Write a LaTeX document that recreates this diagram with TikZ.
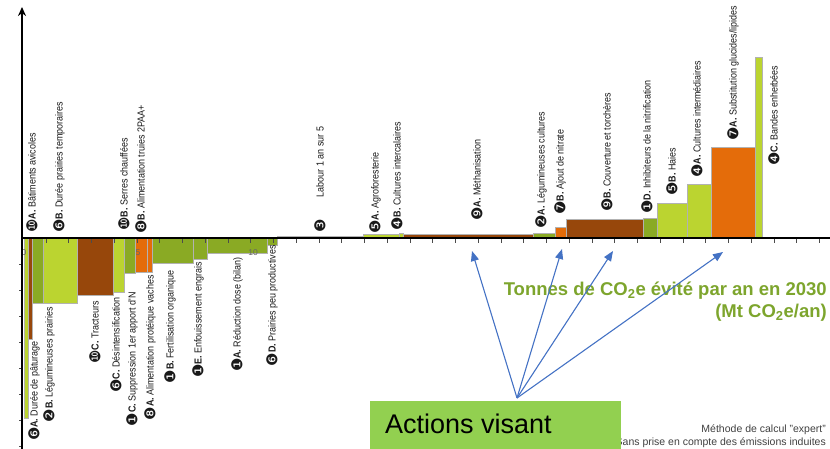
\documentclass[tikz,border=0pt]{standalone}
\usepackage{fontspec}
\setmainfont{Liberation Sans}
\newfontfamily\labfont[FakeStretch=0.88]{Liberation Sans}
\newfontfamily\pastfont{DejaVu Sans}
\usetikzlibrary{arrows.meta}

\definecolor{vclair}{RGB}{187,212,48}
\definecolor{volive}{RGB}{138,170,36}
\definecolor{brun}{RGB}{151,71,11}
\definecolor{orangeb}{RGB}{228,108,10}
\definecolor{vboite}{RGB}{146,208,80}
\definecolor{vtitre}{RGB}{125,165,45}
\definecolor{bleu}{RGB}{68,114,196}

\newcommand\pastille[1]{{\pastfont\fontsize{15}{15}\selectfont\raisebox{-1.8pt}{#1}}}

\begin{document}
\begin{tikzpicture}[x=1pt, y=-1pt,
        barre/.style = {draw = gray!60, line width = 0.5pt},
        haut/.style = {rotate = 90, anchor = west, inner sep = 0pt, text = black!90, font = \labfont\fontsize{10.2}{11}\selectfont},
        bas/.style = {rotate = 90, anchor = east, inner sep = 0pt, text = black!90, font = \labfont\fontsize{10.2}{11}\selectfont},
        grad/.style = {inner sep = 0pt, text = gray!80!black, font = \fontsize{8.5}{9}\selectfont},
        titre/.style = {anchor = base east, inner sep = 0pt, text = vtitre, font = \bfseries\fontsize{18.5}{20}\selectfont},
        pied/.style = {anchor = base east, inner sep = 0pt, text = black!75, font = \fontsize{10.5}{11}\selectfont},
        fleche/.style = {bleu, line width = 1.1pt, -{Triangle[length = 10pt, width = 8pt]}}]
        \useasboundingbox (0,0) rectangle (830,449);
        \clip (0,0) rectangle (830,449);

        \foreach \xa/\xb/\yb/\c in {24/28/418/vclair, 28/32/339/brun, 32/43/303/volive, 43/77/303/vclair,
                 77/113/295/brun, 113/124/292/vclair, 124/135/273/volive, 135/147/272/orangeb, 147/152/272/orangeb,
                 152/193/263/volive, 193/207/259/volive, 207/267/253/volive, 267/277/245/volive,
                 277/363/236.5/volive, 363/399/234/vclair, 399/403/233/vclair, 403/533/234/brun, 533/555/233/volive,
                 555/566/227/orangeb, 566/643/219/brun, 643/657/218/volive, 657/687/203/vclair, 687/711/184/vclair,
                 711/755/147/orangeb, 755/762/57/vclair}
                 {
                   \filldraw [barre, fill = \c] (\xa,238) rectangle (\xb,\yb);
                 }

        \foreach \k in {1,...,35}
                 {
                   \draw [gray!60!black, line width = 0.5pt] (23+22.75*\k,238) -- ++(0,5);
                 }
        \foreach \k in {1,...,8}
                 {
                   \draw [gray!60!black, line width = 0.5pt] (22,238+26*\k) -- ++(-3,0);
                 }
        \foreach \v/\gx in {0/24, 5/138, 10/253}
                 {
                   \node [grad] (g\v) at (\gx,253) {\v};
                 }

        \coordinate (o) at (22,449);
        \coordinate (ytop) at (22,7);
        \coordinate (ox) at (22,238);
        \coordinate (xend) at (830,238);
        \draw [line width = 1.6pt, -{Stealth[length = 9pt, width = 8pt]}] (o) -- (ytop);
        \draw [line width = 1.6pt] (ox) -- (xend);

        \foreach \lx/\ly/\txt [count = \i] in {32/233/{\pastille{❿}\textbf{A.} Bâtiments avicoles},
                 59/233/{\pastille{❻}\textbf{B.} Durée prairies temporaires},
                 124/231/{\pastille{❿}\textbf{B.} Serres chauffées},
                 141/234/{\pastille{❽}\textbf{B.} Alimentation truies 2PAA+},
                 320/233/{\pastille{❸}\hspace{22pt}Labour 1 an sur 5},
                 375/234/{\pastille{❺}\textbf{A.} Agroforesterie},
                 397/231/{\pastille{❹}\textbf{B.} Cultures intercalaires},
                 477/221/{\pastille{❾}\textbf{A.} Méthanisation},
                 541/229/{\pastille{❷}\textbf{A.} Légumineuses cultures},
                 560/215/{\pastille{❼}\textbf{B.} Ajout de nitrate},
                 607/212/{\pastille{❾}\textbf{B.} Couverture et torchères},
                 647/214/{\pastille{❶}\textbf{D.} Inhibiteurs de la nitrification},
                 672/196/{\pastille{❺}\textbf{B.} Haies},
                 697/178/{\pastille{❹}\textbf{A.} Cultures intermédiaires},
                 733/141/{\pastille{❼}\textbf{A.} Substitution glucides/lipides},
                 774/166/{\pastille{❹}\textbf{C.} Bandes enherbées}}
                 {
                   \node [haut] (h\i) at (\lx,\ly) {\txt};
                 }

        \foreach \lx/\ly/\txt [count = \i] in {34/341/{\pastille{❻}\textbf{A.} Durée de pâturage},
                 49/307/{\pastille{❷}\textbf{B.} Légumineuses prairies},
                 95/301/{\pastille{❿}\textbf{C.} Tracteurs},
                 116/297/{\pastille{❻}\textbf{C.} Désintensification},
                 132/292/{\pastille{❶}\textbf{C.} Suppression 1er apport d'N},
                 150/275/{\pastille{❽}\textbf{A.} Alimentation protéique vaches},
                 170/270/{\pastille{❶}\textbf{B.} Fertilisation organique},
                 198/262/{\pastille{❶}\textbf{E.} Enfouissement engrais},
                 237/257/{\pastille{❶}\textbf{A.} Réduction dose (bilan)},
                 272/245/{\pastille{❻}\textbf{D.} Prairies peu productives}}
                 {
                   \node [bas] (b\i) at (\lx,\ly) {\txt};
                 }

        \node [titre] (t1) at (827,295) {Tonnes de CO\textsubscript{2}e évité par an en 2030};
        \node [titre] (t2) at (827,317) {(Mt CO\textsubscript{2}e/an)};
        \node [pied] (p1) at (826,432) {Méthode de calcul "expert"};
        \node [pied] (p2) at (826,445) {Sans prise en compte des émissions induites};

        \coordinate (src) at (517,398);
        \coordinate (f1) at (472,251);
        \coordinate (f2) at (562,249);
        \coordinate (f3) at (613,251);
        \coordinate (f4) at (723,252);
        \foreach \f in {f1, f2, f3, f4}
                 {
                   \draw [fleche] (src) -- (\f);
                 }

        \node [fill = vboite, inner sep = 0pt, minimum width = 251pt, minimum height = 60pt, anchor = north west] (cadre) at (370,401) {};
        \node [anchor = base west, inner sep = 0pt, font = \fontsize{27}{30}\selectfont] (action) at (385,433) {Actions visant};
\end{tikzpicture}
\end{document}
